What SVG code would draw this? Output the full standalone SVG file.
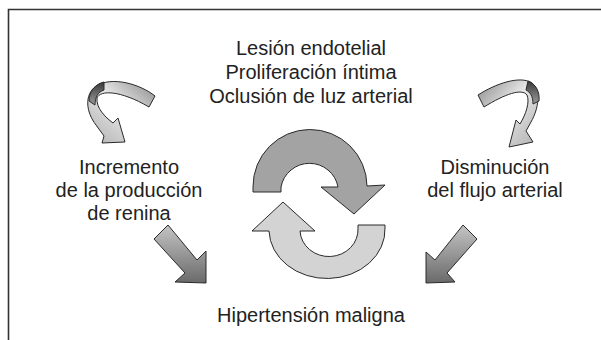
<svg xmlns="http://www.w3.org/2000/svg" width="601" height="340" viewBox="0 0 601 340">
<defs>
<style>
.t{font-family:"Liberation Sans",Arial,sans-serif;font-size:20px;fill:#222;text-anchor:middle}
.ar{stroke:#2a2a2a;stroke-width:1;stroke-linejoin:miter}
</style>
<linearGradient id="gs" x1="0" y1="0" x2="0" y2="1">
<stop offset="0" stop-color="#c4c4c4"/><stop offset="1" stop-color="#6a6a6a"/>
</linearGradient>
<linearGradient id="gcL" x1="1" y1="0" x2="0" y2="1">
<stop offset="0" stop-color="#8a8a8a"/><stop offset="0.45" stop-color="#e6e6e6"/><stop offset="1" stop-color="#b0b0b0"/>
</linearGradient>
<linearGradient id="gcR" x1="0" y1="0" x2="1" y2="1">
<stop offset="0" stop-color="#8a8a8a"/><stop offset="0.45" stop-color="#e6e6e6"/><stop offset="1" stop-color="#b0b0b0"/>
</linearGradient>
<linearGradient id="gd" x1="0" y1="0" x2="0" y2="1">
<stop offset="0" stop-color="#3a3a3a"/><stop offset="1" stop-color="#9a9a9a"/>
</linearGradient>
</defs>
<rect width="601" height="340" fill="#fff"/>
<path d="M8.5,340 V9.5 H601" fill="none" stroke="#333" stroke-width="1.6"/>

<g id="n-top"><text class="t" x="311" y="55">Lesión endotelial</text><text class="t" x="311" y="79">Proliferación íntima</text><text class="t" x="311" y="103">Oclusión de luz arterial</text></g>
<g id="n-left"><text class="t" x="129" y="174">Incremento</text><text class="t" x="129" y="197">de la producción</text><text class="t" x="129" y="220">de renina</text></g>
<g id="n-right"><text class="t" x="495" y="174">Disminución</text><text class="t" x="495" y="197">del flujo arterial</text></g>
<g id="n-bottom"><text class="t" x="311" y="322">Hipertensión maligna</text></g>

<g id="connectors">
<path class="ar" fill="url(#gcL)" d="M155,96 C140,84 112,76 96,86 C84,95 86,112 96,125 L104,136 L102,143 L125,142 L118,118 L113,123 C105,117 96,108 97,98 C100,90 120,90 149,107 Z"/>
<path class="ar" fill="url(#gd)" d="M104,82 C95,84 89,92 89,101 L95,105 C95,97 98,92 104,90 Z"/>
<path class="ar" fill="url(#gcR)" d="M478,95 C495,84 520,75 532,83 C541,90 539,108 531,122 L526,131 L533,142 L509,147 L516,120 L520,124 C526,114 530,102 527,95 C522,88 505,94 484,107 Z"/>
<path class="ar" fill="url(#gd)" d="M528,81 C536,84 540,92 539,101 L533,104 C533,96 530,92 526,90 Z"/>
<path class="ar" fill="#a3a3a3" d="M253,192 L253,187 A57,57 0 0 1 367,186 L385,185 L354,214 L321,187 L338,187 A29,29 0 0 0 281,187 L281,192 Z"/>
<path class="ar" fill="#d3d3d3" d="M358,225 L385,225 L385,228 A58,49 0 0 1 269,231 L252,231 L283,202 L315,231 L300,231 A29,27 0 0 0 358,228 Z"/>
<polygon class="ar" fill="url(#gs)" points="168,225 197,260 206,251 206,283 175,282 185,273 154,239"/>
<polygon class="ar" fill="url(#gs)" points="463,225 477,239 447,273 455,282 426,283 426,252 435,260"/>
</g>
</svg>
